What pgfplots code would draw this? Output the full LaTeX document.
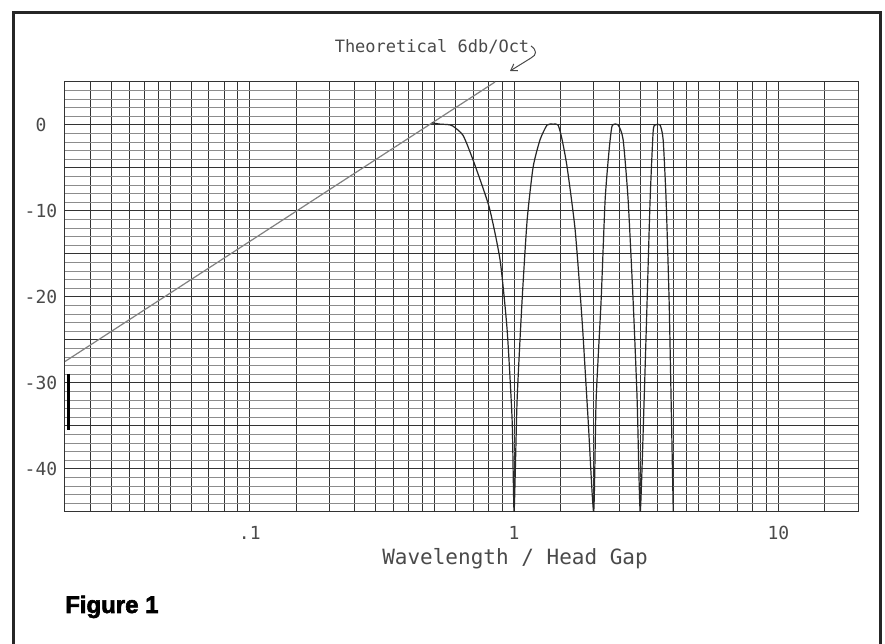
\documentclass[border=0pt]{standalone}
\usepackage{pgfplots}
\pgfplotsset{compat=1.18}
\usepackage{fontspec}
\usetikzlibrary{arrows.meta}
\setmainfont{DejaVu Sans Mono}
\newfontfamily\figfont{Liberation Sans}[FakeBold=2.5]
\definecolor{ink}{HTML}{4A4A4A}
\begin{document}
\begin{tikzpicture}
\begin{scope}[x=1pt,y=1pt]
\useasboundingbox (0,0) rectangle (885,644);
\fill[white] (0,0) rectangle (885,644);
\draw[line width=2.5pt, black!85] (13.5,-5) -- (13.5,631.5) -- (880.5,631.5) -- (880.5,-5);
\end{scope}
\begin{axis}[
  at={(65pt,132pt)}, anchor=south west, scale only axis,
  width=793pt, height=430pt,
  xmode=log, xmin=0.02, xmax=20, ymin=-45, ymax=5,
  xtick={0.1,1,10}, xticklabels={.1,1,10},
  minor xtick={0.025,0.03,0.035,0.04,0.045,0.05,0.06,0.07,0.08,0.09,0.15,0.2,0.25,0.3,0.35,0.4,0.45,0.5,0.6,0.7,0.8,0.9,1.5,2,2.5,3,3.5,4,4.5,5,6,7,8,9,15},
  ytick={-45,-40,...,5}, yticklabels={,-40,,-30,,-20,,-10,,0,},
  minor y tick num=4,
  grid=both,
  major x grid style={black!80, line width=1pt},
  minor x grid style={black!80, line width=1pt},
  major y grid style={black!80, line width=1pt},
  minor y grid style={black!45, line width=0.9pt},
  major tick length=0pt, minor tick length=0pt,
  axis line style={black!80, line width=1pt},
  tick label style={font=\fontsize{18}{18}\selectfont, text=ink},
  yticklabel style={anchor=center, xshift=-24pt},
  xticklabel style={anchor=center, yshift=-21pt},
  xlabel={Wavelength / Head Gap},
  xlabel style={at={(axis description cs:0.5675,0)}, anchor=base, yshift=-53pt, font=\fontsize{21}{21}\selectfont, text=ink},
]
\addplot[black!50, line width=1.2pt] coordinates {(0.02,-27.5) (0.847,5)};
\addplot[black, line width=2.5pt] coordinates {(0.0206,-28.9) (0.0206,-35.5)};
\addplot[black!85, line width=1.2pt, smooth, tension=0.35] coordinates {
(0.488,0.25) (0.525,0.1) (0.56,0.05) (0.585,-0.1) (0.641,-1.2) (0.70,-4.1) (0.804,-9.5) (0.885,-15.7) (0.941,-23.8) (0.983,-34.3) (1,-45)
(1.0265,-32) (1.072,-20.4) (1.12,-11.1) (1.18,-4.9) (1.254,-1.7) (1.333,0) (1.405,0.1) (1.467,0) (1.519,-1.7) (1.587,-4.9) (1.702,-12.2) (1.808,-22.7) (1.906,-34.3) (2,-45)
(2.043,-32) (2.134,-20.4) (2.21,-8.7) (2.288,-2.9) (2.349,-0.1) (2.475,0) (2.585,-1.7) (2.70,-8.7) (2.82,-20.4) (2.921,-32) (3,-45)
(3.104,-32) (3.186,-20.4) (3.27,-8.7) (3.357,-0.8) (3.416,0) (3.567,0) (3.663,-1.7) (3.759,-8.7) (3.859,-20.4) (3.927,-32) (4,-45)
};
\end{axis}
\begin{scope}[x=1pt,y=1pt]
\node[anchor=base, font=\fontsize{17}{17}\selectfont, text=ink] at (432,591) {Theoretical 6db/Oct};
\draw[ink, line width=1pt, -{Straight Barb[length=6pt,width=8pt]}] (531,598) .. controls (537,594) and (537,589) .. (531,586) -- (510,573);
\node[anchor=base west, inner sep=0pt, font=\figfont\bfseries\fontsize{24}{24}\selectfont] at (65,31) {Figure 1};
\end{scope}
\end{tikzpicture}
\end{document}
